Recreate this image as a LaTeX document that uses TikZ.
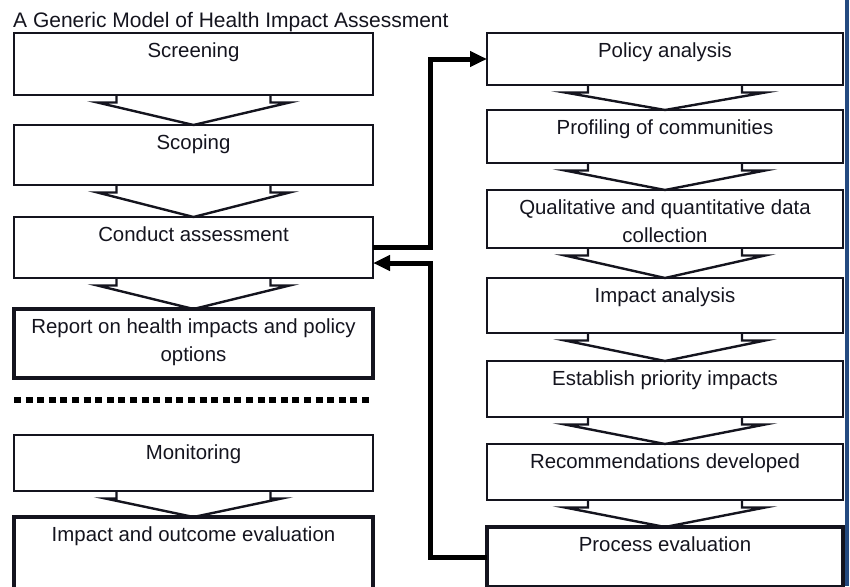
\documentclass[tikz,border=0pt]{standalone}
\usepackage{fontspec}
\setmainfont{Liberation Sans}
\usetikzlibrary{arrows.meta}
\definecolor{inkc}{RGB}{20,20,30}
\definecolor{edgeblue}{RGB}{36,74,128}
\tikzset{
  stage/.style={draw=inkc, line width=2.3pt, inner sep=0pt, outer sep=0pt, anchor=north west},
  leftbox/.style={stage, minimum width=359pt},
  rightbox/.style={stage, minimum width=356pt},
  heavy/.style={line width=3.3pt},
  lbl/.style={anchor=north, inner sep=0pt, align=center, text=inkc,
    font=\fontsize{20.4}{27.5}\selectfont},
  titletext/.style={anchor=base west, inner sep=0pt, text=inkc,
    font=\fontsize{21}{25}\selectfont},
  chevline/.style={draw=inkc, line width=2.4pt, line join=miter, miter limit=14},
  flow/.style={draw=black, line width=5pt, line join=miter,
    -{Triangle[length=17pt,width=15pt]}},
  separator/.style={draw=black, line width=6pt, dash pattern=on 7pt off 4.6pt},
}
% chevron joining two stacked stages: #1 upper, #2 lower, #3 inner offset, #4 outer offset
\newcommand{\stagechev}[4]{%
  \draw[chevline] ([xshift=-#3pt]#1.south) -- ++(0,7.5) -- ++(#3-#4,0) -- (#2.north)
    -- ([xshift=#4pt,yshift=-7.5pt]#1.south) -- ++(#3-#4,0) -- ++(0,-7.5);}
\begin{document}
\begin{tikzpicture}[x=1pt,y=-1pt]
\useasboundingbox (0,0) rectangle (850,586);
\clip (0,0) rectangle (850,586);

\node[titletext] (title) at (13,27.5) {A Generic Model of Health Impact Assessment};

% left column: the assessment steps
\node[leftbox, minimum height=62pt] (scr) at (14,33) {};
\node[leftbox, minimum height=60pt] (scp) at (14,125) {};
\node[leftbox, minimum height=61pt] (cond) at (14,217) {};
\node[leftbox, heavy, minimum height=69pt] (rep) at (14,309) {};
\node[leftbox, minimum height=56pt] (mon) at (14,435) {};
\node[leftbox, heavy, minimum height=75pt] (iao) at (14,517) {};

\node[lbl] (scr-t) at ([yshift=-10pt]scr.north) {Screening};
\node[lbl] (scp-t) at ([yshift=-10pt]scp.north) {Scoping};
\node[lbl] (cond-t) at ([yshift=-10pt]cond.north) {Conduct assessment};
\node[lbl] (rep-t) at ([yshift=-10pt]rep.north) {Report on health impacts and policy\\options};
\node[lbl] (mon-t) at ([yshift=-10pt]mon.north) {Monitoring};
\node[lbl] (iao-t) at ([yshift=-10pt]iao.north) {Impact and outcome evaluation};

\stagechev{scr}{scp}{77}{96}
\stagechev{scp}{cond}{77}{96}
\stagechev{cond}{rep}{77}{96}
\stagechev{mon}{iao}{77}{88}

% dotted divider between assessment and follow-up
\coordinate (sepL) at (14,400);
\coordinate (sepR) at (373,400);
\draw[separator] (sepL) -- (sepR);

% right column: the assessment in detail
\node[rightbox, minimum height=52pt] (pol) at (487,33) {};
\node[rightbox, minimum height=53pt] (prof) at (487,110) {};
\node[rightbox, minimum height=58pt] (qual) at (487,190) {};
\node[rightbox, minimum height=55pt] (imp) at (487,278) {};
\node[rightbox, minimum height=56pt] (est) at (487,361) {};
\node[rightbox, minimum height=56pt] (rec) at (487,444) {};
\node[rightbox, heavy, minimum height=60pt] (proc) at (487,527) {};

\node[lbl] (pol-t) at ([yshift=-10pt]pol.north) {Policy analysis};
\node[lbl] (prof-t) at ([yshift=-10pt]prof.north) {Profiling of communities};
\node[lbl] (qual-t) at ([yshift=-10pt]qual.north) {Qualitative and quantitative data\\collection};
\node[lbl] (imp-t) at ([yshift=-10pt]imp.north) {Impact analysis};
\node[lbl] (est-t) at ([yshift=-10pt]est.north) {Establish priority impacts};
\node[lbl] (rec-t) at ([yshift=-10pt]rec.north) {Recommendations developed};
\node[lbl] (proc-t) at ([yshift=-10pt]proc.north) {Process evaluation};

\stagechev{pol}{prof}{77}{100}
\stagechev{prof}{qual}{77}{100}
\stagechev{qual}{imp}{77}{100}
\stagechev{imp}{est}{77}{100}
\stagechev{est}{rec}{77}{100}
\stagechev{rec}{proc}{77}{100}

% links between the two columns
\draw[flow] (cond.east) -- ++(57,0) |- (pol.west);
\draw[flow] (proc.west) -- ++(-57,0) |- ([yshift=-15.5pt]cond.east);

% page edge rule
\coordinate (edgeT) at (847,0);
\coordinate (edgeB) at (847,586);
\draw[edgeblue, line width=3.5pt] (edgeT) -- (edgeB);
\end{tikzpicture}
\end{document}
